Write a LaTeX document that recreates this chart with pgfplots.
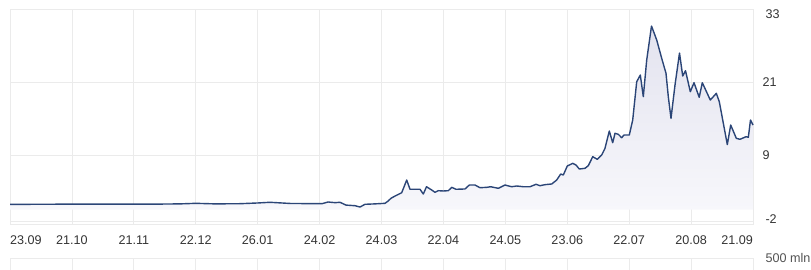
\documentclass[border=0pt]{standalone}
\usepackage{pgfplots}
\pgfplotsset{compat=1.18}
\usepackage{fontspec}
\setmainfont{Liberation Sans}
\definecolor{gridc}{HTML}{EBEBEB}
\definecolor{linec}{HTML}{2B4577}
\definecolor{labc}{HTML}{333333}
\definecolor{filltop}{HTML}{E3E3EF}
\definecolor{fillbot}{HTML}{F7F7FB}
\newcommand{\lf}{\fontsize{12.6bp}{15bp}\selectfont}
\begin{document}
\begin{tikzpicture}
\useasboundingbox (0bp,0bp) rectangle (811bp,-270bp);
\pgfplotsset{
  commonx/.style={
    scale only axis, xmin=0, xmax=743,
    xtick={0,61.92,123.83,185.75,247.67,309.58,371.5,433.42,495.33,557.25,619.17,681.08,743},
    xmajorgrids, major grid style={gridc, line width=0.8bp},
    axis line style={gridc, line width=0.8bp},
    major tick length=0pt,
    tick label style={font=\lf, text=labc},
  }
}
\begin{axis}[commonx,
  at={(10bp,-224bp)}, anchor=south west,
  width=743bp, height=215bp,
  ymin=-2.36, ymax=33,
  ytick={-2,9,21,33}, yticklabels={,9,21,},
  ymajorgrids,
  yticklabel pos=right,
  yticklabel style={anchor=west, xshift=6bp},
  xticklabels={,21.10,21.11,22.12,26.01,24.02,24.03,22.04,24.05,23.06,22.07,20.08,},
  xticklabel style={yshift=-8bp},
  clip=false,
]
\addplot[draw=none, top color=filltop, bottom color=fillbot] table {
x y
0 0.88
20 0.88
50 0.90
90 0.90
110 0.92
140 0.90
170 0.95
186 1.04
205 0.95
230 0.98
248 1.10
260 1.21
280 1.02
308 0.98
312 0.98
318 1.26
325 1.15
330 1.21
336 0.75
345 0.65
350 0.43
355 0.88
365 0.95
375 1.04
378 1.40
381 1.87
385 2.24
391.7 2.79
396.7 4.87
400 3.35
410 3.35
413.3 2.57
416.5 3.77
421.7 3.23
425 2.85
428.3 3.12
433.3 3.07
438.3 3.12
441.7 3.67
446 3.35
455 3.40
459.3 4.05
465 4.05
470 3.61
476.7 3.67
480.7 3.77
488.3 3.51
495 4.05
501.7 3.77
506.7 3.89
513.3 3.77
520 3.77
526 4.17
530 3.94
535 4.11
541.7 4.22
546.7 4.87
550.7 5.86
553.3 5.70
557.3 7.18
562.7 7.62
566 7.34
569.3 6.68
575 6.80
578.3 7.23
582.7 8.71
587.3 8.28
591.7 9.00
595 10.09
599.3 12.93
602.7 11.01
605 12.56
608.3 12.39
611.7 11.83
614 12.28
619.3 12.28
622.7 14.74
626.7 21.04
630.3 22.14
633.3 18.58
636.7 24.61
641.5 30.20
646.7 27.90
651.7 24.89
656 22.42
658.3 18.58
661 15.02
665 20.50
669.5 25.76
672.7 21.98
675.5 22.85
680.3 19.40
684 20.88
689.2 18.48
692.3 20.88
700.3 18.03
706.3 19.13
709.3 17.75
717.3 10.70
720.7 13.92
726.3 11.73
730 11.57
736 12.00
738.3 11.90
740.5 14.74
743 13.92
} \closedcycle;
\addplot[linec, line width=1.4bp, line join=round] table {
x y
0 0.88
20 0.88
50 0.90
90 0.90
110 0.92
140 0.90
170 0.95
186 1.04
205 0.95
230 0.98
248 1.10
260 1.21
280 1.02
308 0.98
312 0.98
318 1.26
325 1.15
330 1.21
336 0.75
345 0.65
350 0.43
355 0.88
365 0.95
375 1.04
378 1.40
381 1.87
385 2.24
391.7 2.79
396.7 4.87
400 3.35
410 3.35
413.3 2.57
416.5 3.77
421.7 3.23
425 2.85
428.3 3.12
433.3 3.07
438.3 3.12
441.7 3.67
446 3.35
455 3.40
459.3 4.05
465 4.05
470 3.61
476.7 3.67
480.7 3.77
488.3 3.51
495 4.05
501.7 3.77
506.7 3.89
513.3 3.77
520 3.77
526 4.17
530 3.94
535 4.11
541.7 4.22
546.7 4.87
550.7 5.86
553.3 5.70
557.3 7.18
562.7 7.62
566 7.34
569.3 6.68
575 6.80
578.3 7.23
582.7 8.71
587.3 8.28
591.7 9.00
595 10.09
599.3 12.93
602.7 11.01
605 12.56
608.3 12.39
611.7 11.83
614 12.28
619.3 12.28
622.7 14.74
626.7 21.04
630.3 22.14
633.3 18.58
636.7 24.61
641.5 30.20
646.7 27.90
651.7 24.89
656 22.42
658.3 18.58
661 15.02
665 20.50
669.5 25.76
672.7 21.98
675.5 22.85
680.3 19.40
684 20.88
689.2 18.48
692.3 20.88
700.3 18.03
706.3 19.13
709.3 17.75
717.3 10.70
720.7 13.92
726.3 11.73
730 11.57
736 12.00
738.3 11.90
740.5 14.74
743 13.92
};
\node[anchor=west, font=\lf, text=labc] at (axis cs:743,33) [xshift=9bp, yshift=-5bp] {33};
\node[anchor=west, font=\lf, text=labc] at (axis cs:743,-2) [xshift=9bp, yshift=3bp] {-2};
\node[anchor=north west, font=\lf, text=labc, inner sep=0pt] at (rel axis cs:0,0) [yshift=-11.5bp] {23.09};
\node[anchor=north east, font=\lf, text=labc, inner sep=0pt] at (rel axis cs:1,0) [yshift=-11.5bp] {21.09};
\end{axis}
\begin{axis}[commonx,
  at={(10bp,-290bp)}, anchor=south west,
  width=743bp, height=32bp,
  ymin=0, ymax=1, ytick=\empty, xticklabels={},
  clip=false,
]
\node[anchor=west, font=\lf, text=labc!85] at (rel axis cs:1,1) [xshift=9bp] {500 mln};
\end{axis}
\end{tikzpicture}
\end{document}
